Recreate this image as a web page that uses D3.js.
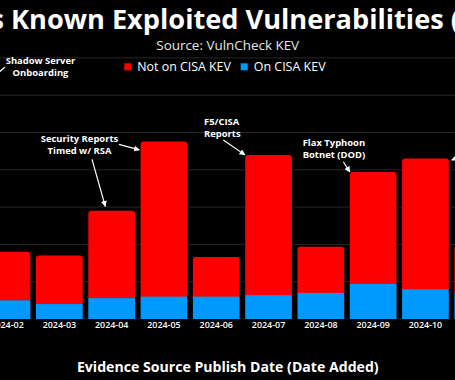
<!DOCTYPE html>
<html>
<head>
<meta charset="utf-8">
<script src="https://cdn.jsdelivr.net/npm/d3@7"></script>
<style>
  html, body { margin: 0; padding: 0; background: #000; overflow: hidden; }
  svg { display: block; }
</style>
</head>
<body>
<div id="chart"></div>
<script>
// ---- data ----
const categories = ["2024-02","2024-03","2024-04","2024-05","2024-06","2024-07","2024-08","2024-09","2024-10","2024-11"];
const onCisaKev    = [25, 20, 28, 30, 30, 32, 35, 47, 40, 35];
const notOnCisaKev = [65, 65, 117, 208, 53, 188, 62, 150, 175, 64];
const yTicks = [0, 50, 100, 150, 200, 250, 300, 350];
const seriesNames = ["Not on CISA KEV", "On CISA KEV"];
const titleText = "VulnCheck's Known Exploited Vulnerabilities (2024)";
const titlePrefix = "VulnCheck's ";
const subtitleText = "Source: VulnCheck KEV";
const xAxisTitle = "Evidence Source Publish Date (Date Added)";

const W = 455, H = 380;
const RED = "#ff0000", BLUE = "#0099ff";
const FONT = "'Open Sans', 'Noto Sans', sans-serif";

const svg = d3.select("#chart").append("svg").attr("width", W).attr("height", H)
  .style("background", "#000");

const x = d3.scaleBand().domain(categories).range([-19.1, 503.9])
  .paddingInner(0.107).paddingOuter(0.0535);
const y = d3.scaleLinear().domain([0, 350]).range([319, 57.9]);

// gridlines
svg.append("g").selectAll("line").data(yTicks.filter(d => d > 0)).join("line")
  .attr("x1", 0).attr("x2", W)
  .attr("y1", d => y(d)).attr("y2", d => y(d))
  .attr("stroke", "#262626").attr("stroke-width", 1);

const rows = categories.map((c, i) => ({ c, on: onCisaKev[i], not: notOnCisaKev[i], total: onCisaKev[i] + notOnCisaKev[i] }));

// stacked bars
const bars = svg.append("g");
const r = 3;
bars.selectAll("path.not").data(rows).join("path").attr("class", "not")
  .attr("fill", RED)
  .attr("d", d => {
    const x0 = x(d.c), x1 = x(d.c) + x.bandwidth();
    const yt = y(d.total), yb = y(d.on) + 0.5;
    return `M${x0},${yb}L${x0},${yt + r}Q${x0},${yt} ${x0 + r},${yt}L${x1 - r},${yt}Q${x1},${yt} ${x1},${yt + r}L${x1},${yb}Z`;
  });
bars.selectAll("rect.on").data(rows).join("rect").attr("class", "on")
  .attr("fill", BLUE)
  .attr("x", d => x(d.c)).attr("width", x.bandwidth())
  .attr("y", d => y(d.on)).attr("height", d => y(0) - y(d.on));

// fit helper
function fit(sel, target) {
  const fs = parseFloat(sel.style("font-size"));
  const w = sel.node().getComputedTextLength();
  const nfs = fs * target / w;
  sel.style("font-size", nfs + "px");
  return nfs;
}

// x axis
const xAxis = svg.append("g").attr("transform", `translate(0,${y(0)})`)
  .call(d3.axisBottom(x).tickSize(0).tickPadding(3));
xAxis.select(".domain").remove();
xAxis.selectAll("text").attr("fill", "#fff").style("font-family", FONT)
  .style("font-size", "9px").style("font-weight", 600);
{
  const t = xAxis.selectAll("text").filter(d => d === "2024-03");
  const fs = fit(t, 33.5);
  xAxis.selectAll("text").style("font-size", fs + "px");
}

// title
const title = svg.append("text").attr("y", 29).attr("fill", "#fff")
  .style("font-family", FONT).style("font-size", "25px").style("font-weight", 700)
  .text(titleText);
{
  const n = title.node();
  const knownLen = "Known Exploited Vulnerabilities".length;
  const start = titlePrefix.length;
  const w = n.getSubStringLength(start, knownLen);
  const fs = 25 * 433 / w;
  title.style("font-size", fs + "px");
  const pre = n.getSubStringLength(0, start);
  title.attr("x", 11 - pre);
}

// subtitle
const sub = svg.append("text").attr("x", 227.7).attr("y", 50).attr("text-anchor", "middle")
  .attr("fill", "#e6e6e6").style("font-family", FONT).style("font-size", "12.5px")
  .text(subtitleText);
fit(sub, 143);

// legend
const legendX = [124.3, 240.7];
const legend = svg.append("g");
seriesNames.forEach((s, i) => {
  legend.append("rect").attr("x", legendX[i]).attr("y", 63.3).attr("width", 7).attr("height", 7)
    .attr("fill", i === 0 ? RED : BLUE);
  const t = legend.append("text").attr("x", legendX[i] + 13).attr("y", 71)
    .attr("fill", "#fff").style("font-family", FONT).style("font-size", "12px").text(s);
  fit(t, i === 0 ? 93.7 : 72);
});

// x-axis title
const xt = svg.append("text").attr("x", 227.8).attr("y", 372).attr("text-anchor", "middle")
  .attr("fill", "#fff").style("font-family", FONT).style("font-size", "14px").style("font-weight", 700)
  .text(xAxisTitle);
fit(xt, 302);

// annotations
const defs = svg.append("defs");
defs.append("marker").attr("id", "ah").attr("viewBox", "0 0 10 10").attr("refX", 9).attr("refY", 5)
  .attr("markerWidth", 5).attr("markerHeight", 5).attr("orient", "auto")
  .append("path").attr("d", "M0,0L10,5L0,10Z").attr("fill", "#fff");

const ann = svg.append("g").attr("fill", "#fff").style("font-family", FONT)
  .style("font-weight", 700);

// common annotation font size, sized from the widest label
let annSize = 9;
{
  const probe = ann.append("text").style("font-size", "9px").text("Security Reports");
  annSize = fit(probe, 77.6);
  probe.remove();
}
function label(lines, cx, y0, anchor) {
  lines.forEach((l, i) => ann.append("text").attr("x", cx).attr("y", y0 + i * 12.3)
    .attr("text-anchor", anchor || "middle").style("font-size", annSize + "px").text(l));
}
function arrow(x1, y1, x2, y2) {
  svg.append("line").attr("x1", x1).attr("y1", y1).attr("x2", x2).attr("y2", y2)
    .attr("stroke", "#fff").attr("stroke-width", 1.2).attr("marker-end", "url(#ah)");
}
const bx = c => x(c), bt = c => y(rows.find(d => d.c === c).total);

label(["Shadow Server", "Onboarding"], 40.5, 64, "middle");
arrow(5, 67, -12, 82);

label(["Security Reports", "Timed w/ RSA"], 79.5, 141.5, "middle");
arrow(119, 144.3, bx("2024-05") - 1.3, bt("2024-05") + 8.5);
arrow(92, 159.3, bx("2024-04") + 17, bt("2024-04") - 4.5);

label(["F5/CISA", "Reports"], 204, 124.5, "start");
arrow(223.3, 140, bx("2024-07") - 0.3, bt("2024-07"));

label(["Flax Typhoon", "Botnet (DOD)"], 302.7, 146, "start");
arrow(343.3, 161.7, bx("2024-09"), bt("2024-09"));

arrow(470, 152, bx("2024-10") + x.bandwidth() + 3, bt("2024-10") + 1.5);
</script>
</body>
</html>
